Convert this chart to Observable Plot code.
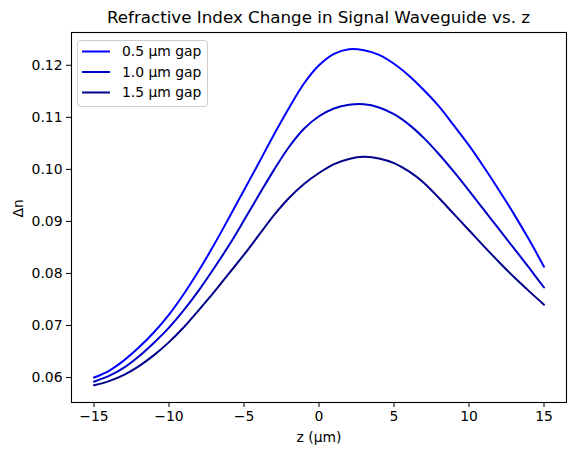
<!DOCTYPE html>
<html>
<head>
<meta charset="utf-8">
<script src="https://cdn.jsdelivr.net/npm/d3@7"></script>
<script src="https://cdn.jsdelivr.net/npm/@observablehq/plot@0.6"></script>
<style>
  body { margin: 0; background: white; font-family: "DejaVu Sans", sans-serif; }
  #title { height: 30px; line-height: 34px; font-size: 16.7px; text-align: center; padding-left: 61px; width: 515px; color: black; white-space: nowrap; }
</style>
</head>
<body>
<div id="title">Refractive Index Change in Signal Waveguide vs. z</div>
<div id="chart"></div>
<script>
const zValues = [-15,-14,-13,-12,-11,-10,-9,-8,-7,-6,-5,-4,-3,-2,-1,0,1,2,3,4,5,6,7,8,9,10,11,12,13,14,15];
const gap05 = [0.0600,0.0613,0.0633,0.0658,0.0687,0.0721,0.0761,0.0806,0.0855,0.0907,0.0960,0.1013,0.1067,0.1118,0.1165,0.1200,0.1222,0.1231,0.1229,0.1220,0.1203,0.1180,0.1152,0.1121,0.1084,0.1046,0.1004,0.0960,0.0914,0.0865,0.0813];
const gap10 = [0.0592,0.0603,0.0619,0.0641,0.0667,0.0696,0.0730,0.0768,0.0810,0.0854,0.0902,0.0951,0.0999,0.1043,0.1078,0.1102,0.1117,0.1124,0.1125,0.1119,0.1106,0.1086,0.1060,0.1029,0.0995,0.0959,0.0922,0.0885,0.0848,0.0811,0.0773];
const gap15 = [0.0585,0.0593,0.0605,0.0622,0.0643,0.0668,0.0697,0.0730,0.0764,0.0800,0.0836,0.0874,0.0912,0.0945,0.0972,0.0993,0.1010,0.1020,0.1024,0.1021,0.1012,0.0996,0.0974,0.0945,0.0914,0.0883,0.0852,0.0822,0.0793,0.0766,0.0740];
const seriesNames = ["0.5 µm gap", "1.0 µm gap", "1.5 µm gap"];
const seriesColors = ["#0000ff", "#0000cd", "#00008b"];
const xTicks = [-15,-10,-5,0,5,10,15];
const yTicks = [0.06,0.07,0.08,0.09,0.10,0.11,0.12];

const allSeries = [gap05, gap10, gap15];
const rows = [];
allSeries.forEach((vals, i) => {
  vals.forEach((v, j) => rows.push({z: zValues[j], dn: v, series: seriesNames[i]}));
});

const minus = d => d < 0 ? "\u2212" + Math.abs(d) : String(d);

const plot = Plot.plot({
  width: 576,
  height: 425,
  marginTop: 2,
  marginBottom: 53,
  marginLeft: 71,
  marginRight: 10,
  style: {fontFamily: "DejaVu Sans", fontSize: "13.9px", color: "black", background: "white"},
  x: {domain: [-16.5, 16.5]},
  y: {domain: [0.0552, 0.1263]},
  color: {domain: seriesNames, range: seriesColors},
  marks: [
    Plot.lineY(rows, {x: "z", y: "dn", stroke: "series", strokeWidth: 2, curve: "catmull-rom"}),
    Plot.axisX({ticks: xTicks, tickFormat: minus, tickSize: 5, tickPadding: 4, label: null, stroke: "black", strokeWidth: 1}),
    Plot.axisY({ticks: yTicks, tickFormat: d3.format(".2f"), tickSize: 5, tickPadding: 4, label: null, stroke: "black", strokeWidth: 1}),
    Plot.text(["z (µm)"], {frameAnchor: "bottom", dy: 35, lineAnchor: "middle", fontSize: 13.9, fill: "black"}),
    Plot.text(["Δn"], {frameAnchor: "left", dx: -53, rotate: -90, lineAnchor: "middle", fontSize: 13.9, fill: "black"}),
    Plot.frame({stroke: "black", strokeWidth: 1.1})
  ]
});
document.getElementById("chart").appendChild(plot);

// Legend box (matplotlib style)
const svg = d3.select(plot);
const lg = svg.append("g").attr("font-family", "DejaVu Sans").attr("font-size", "13.9px").attr("text-anchor", "start");
lg.append("rect").attr("x", 77.5).attr("y", 10.5).attr("width", 130).attr("height", 66)
  .attr("rx", 3).attr("fill", "white").attr("fill-opacity", 0.8).attr("stroke", "#cccccc").attr("stroke-width", 1);
const rowY = [21.5, 42, 62.5];
seriesNames.forEach((name, i) => {
  lg.append("line").attr("x1", 82).attr("x2", 110).attr("y1", rowY[i]).attr("y2", rowY[i])
    .attr("stroke", seriesColors[i]).attr("stroke-width", 2);
  lg.append("text").attr("x", 122).attr("y", rowY[i]).attr("dy", "0.35em").attr("text-anchor", "start").attr("fill", "black").text(name);
});
</script>
</body>
</html>
